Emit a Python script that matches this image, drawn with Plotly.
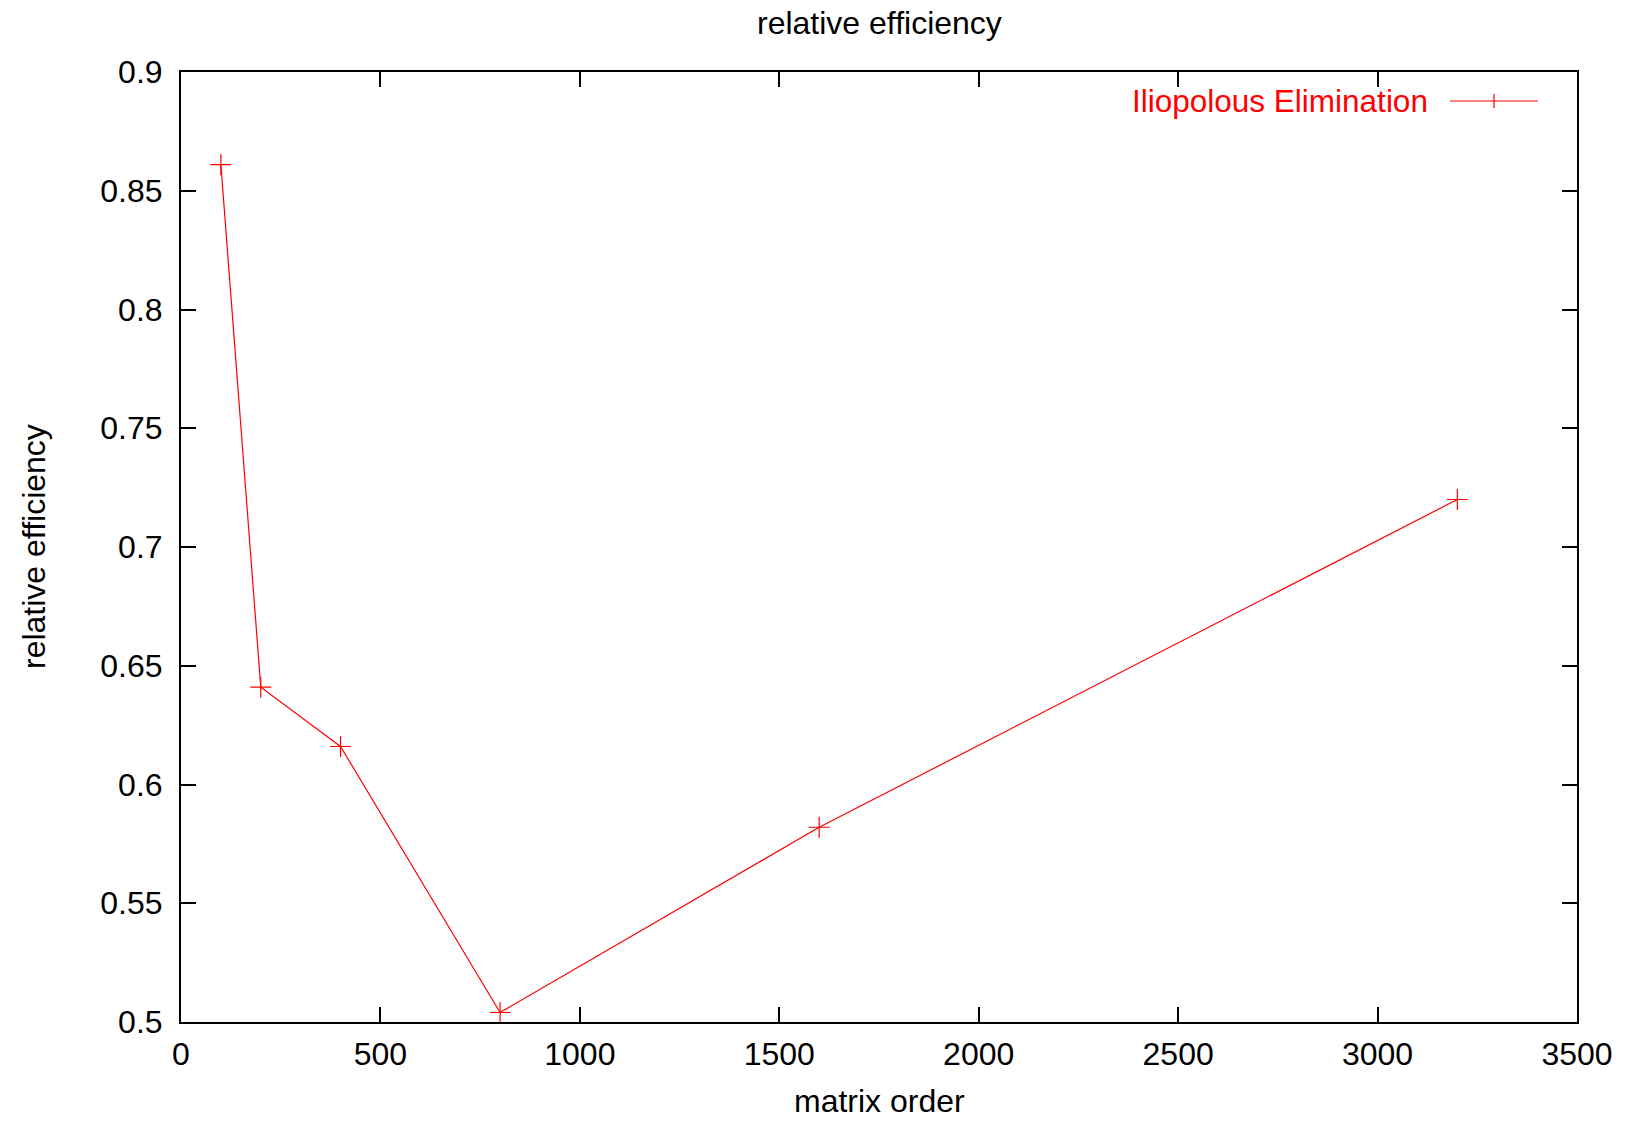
import plotly.graph_objects as go

matrix_order = [100, 200, 400, 800, 1600, 3200]
efficiency = [0.861, 0.641, 0.616, 0.504, 0.582, 0.720]
series_name = "Iliopolous Elimination"
x_ticks = [0, 500, 1000, 1500, 2000, 2500, 3000, 3500]
y_ticks = [0.5, 0.55, 0.6, 0.65, 0.7, 0.75, 0.8, 0.85, 0.9]
y_tick_text = ["0.5", "0.55", "0.6", "0.65", "0.7", "0.75", "0.8", "0.85", "0.9"]

FONT = "Liberation Sans, Arial, sans-serif"
FS = 32
W, H = 1631, 1122
ML, MR, MT, MB = 181, 54, 72, 100

fig = go.Figure()
fig.add_trace(go.Scatter(
    x=matrix_order, y=efficiency, mode="lines+markers", name=series_name,
    line=dict(color="#ff0000", width=1.2),
    marker=dict(symbol="cross-thin", size=15, line=dict(color="#ff0000", width=1.2)),
    showlegend=False,
))

axis_common = dict(
    showgrid=False, zeroline=False, showline=True, linecolor="black", linewidth=2,
    mirror="ticks", ticks="inside", ticklen=15, tickwidth=2, tickcolor="black",
    tickfont=dict(family=FONT, size=FS, color="black"),
)
fig.update_xaxes(range=[0, 3500], tickvals=x_ticks, ticktext=[str(v) for v in x_ticks],
                 ticklabelstandoff=3, **axis_common)
fig.update_yaxes(range=[0.5, 0.9], tickvals=y_ticks, ticktext=y_tick_text,
                 ticklabelstandoff=10, **axis_common)

pw = W - ML - MR
ph = H - MT - MB

def px_x(p):
    return (p - ML) / pw

def px_y(p):
    return 1 - (p - MT) / ph

annotations = [
    dict(text="relative efficiency", x=0.5, y=px_y(23), xref="paper", yref="paper",
         showarrow=False, font=dict(family=FONT, size=FS, color="black"), xanchor="center", yanchor="middle"),
    dict(text="matrix order", x=0.5, y=px_y(1101), xref="paper", yref="paper",
         showarrow=False, font=dict(family=FONT, size=FS, color="black"), xanchor="center", yanchor="middle"),
    dict(text="relative efficiency", x=px_x(34), y=0.5, xref="paper", yref="paper", textangle=-90,
         showarrow=False, font=dict(family=FONT, size=FS, color="black"), xanchor="center", yanchor="middle"),
    dict(text=series_name, x=px_x(1430), y=px_y(101), xref="paper", yref="paper",
         showarrow=False, font=dict(family=FONT, size=31.5, color="#ff0000"), xanchor="right", yanchor="middle"),
]

shapes = [
    dict(type="line", xref="paper", yref="paper", x0=px_x(1450), x1=px_x(1538), y0=px_y(101), y1=px_y(101),
         line=dict(color="#ff0000", width=1.2)),
    dict(type="line", xref="paper", yref="paper", x0=px_x(1494), x1=px_x(1494), y0=px_y(94), y1=px_y(108),
         line=dict(color="#ff0000", width=1.2)),
]

fig.update_layout(
    width=W, height=H, margin=dict(l=ML, r=MR, t=MT, b=MB),
    plot_bgcolor="white", paper_bgcolor="white",
    annotations=annotations, shapes=shapes,
    font=dict(family=FONT, size=FS, color="black"),
)

fig.write_html("out.html", config={"displayModeBar": False},
               post_script="document.body.style.margin='0px';document.body.style.overflow='hidden';")
